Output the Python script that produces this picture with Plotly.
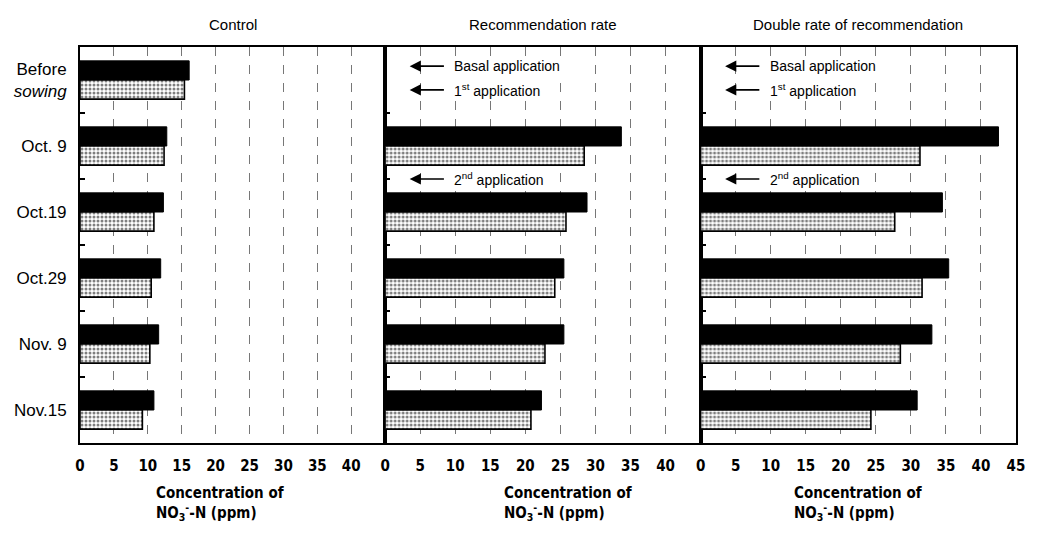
import plotly.graph_objects as go
from plotly.subplots import make_subplots

# Sampling dates (top to bottom)
dates = ["Before<br><i>sowing</i>", "Oct. 9", "Oct.19", "Oct.29", "Nov. 9", "Nov.15"]

panel_titles = ["Control", "Recommendation rate", "Double rate of recommendation"]

# NO3-N concentration (ppm): solid (black) and stippled bars per treatment
control_solid = [16.1, 12.8, 12.3, 11.9, 11.6, 10.9]
control_dotted = [15.4, 12.4, 10.9, 10.5, 10.3, 9.2]

recom_solid = [None, 33.7, 28.8, 25.5, 25.5, 22.3]
recom_dotted = [None, 28.4, 25.8, 24.2, 22.8, 20.8]

double_solid = [None, 42.5, 34.5, 35.4, 33.0, 30.9]
double_dotted = [None, 31.3, 27.7, 31.6, 28.5, 24.3]

# x tick labels per panel
ticks_control = [0, 5, 10, 15, 20, 25, 30, 35, 40]
ticks_recom = [0, 5, 10, 15, 20, 25, 30, 35, 40]
ticks_double = [0, 5, 10, 15, 20, 25, 30, 35, 40, 45]

# Fertilizer application markers (treated panels only)
app_labels = ["Basal application", "1<sup>st</sup> application", "2<sup>nd</sup> application"]
app_rows = [-0.21, 0.15, 1.5]

solid_sets = [control_solid, recom_solid, double_solid]
dotted_sets = [control_dotted, recom_dotted, double_dotted]
tick_sets = [ticks_control, ticks_recom, ticks_double]

fig = make_subplots(rows=1, cols=3, shared_yaxes=False, horizontal_spacing=0.0)

domains = [[0.0, 0.326], [0.326, 0.663], [0.663, 1.0]]
xtitle_pos = [0.46, 0.58, 0.5]

label_font = "Liberation Sans Narrow, Arial Narrow, DejaVu Sans Condensed, Arial"

for i in range(3):
    col = i + 1
    fig.add_trace(
        go.Bar(
            y=dates, x=solid_sets[i], orientation="h",
            marker=dict(color="black", line=dict(color="black", width=1)),
            showlegend=False,
        ),
        row=1, col=col,
    )
    fig.add_trace(
        go.Bar(
            y=dates, x=dotted_sets[i], orientation="h",
            marker=dict(
                color="white",
                line=dict(color="black", width=1.6),
                pattern=dict(shape=".", fgcolor="black", bgcolor="white",
                             size=4, solidity=0.45),
            ),
            showlegend=False,
        ),
        row=1, col=col,
    )

    xa = "xaxis" if i == 0 else f"xaxis{col}"
    ya = "yaxis" if i == 0 else f"yaxis{col}"
    fig.layout[xa].update(
        domain=domains[i], range=[0, 45],
        tickmode="array", tickvals=tick_sets[i],
        ticks="", ticklabelstandoff=8,
        showline=True, linecolor="black", linewidth=2, mirror=True,
        showgrid=True, gridcolor="#777", griddash="dash", gridwidth=1,
        zeroline=False,
        tickfont=dict(family=label_font, size=15, color="black", weight="bold"),
    )
    fig.layout[ya].update(
        type="category", autorange="reversed",
        categoryorder="array", categoryarray=dates,
        ticks="inside", tickson="boundaries", ticklen=5, tickcolor="black",
        tickwidth=1.5, ticklabelstandoff=8,
        showline=True, linecolor="black", linewidth=2, mirror=True,
        showgrid=False, showticklabels=(i == 0),
        tickfont=dict(family="Arial, Liberation Sans", size=17, color="black"),
    )

    # panel heading
    fig.add_annotation(
        text=panel_titles[i], xref=f"x{'' if i == 0 else col} domain", yref="paper",
        x=0.5, y=1.0, yshift=33, showarrow=False,
        font=dict(family="Arial, Liberation Sans", size=15, color="black"),
    )
    # axis title
    fig.add_annotation(
        text="Concentration of<br>NO<sub>3</sub><sup>-</sup>-N (ppm)",
        xref=f"x{'' if i == 0 else col} domain", yref="paper",
        x=xtitle_pos[i], y=0, yshift=-39, yanchor="top", xanchor="center",
        align="left", showarrow=False,
        font=dict(family=label_font, size=15, color="black", weight="bold"),
    )

    if i > 0:
        xr = f"x{col}"
        yr = f"y{col}"
        for lab, row in zip(app_labels, app_rows):
            fig.add_annotation(
                x=3.5, y=row, xref=xr, yref=yr,
                ax=8.6, ay=row, axref=xr, ayref=yr,
                text="", showarrow=True, arrowhead=2, arrowsize=1.4,
                arrowwidth=1.6, arrowcolor="black",
            )
            fig.add_annotation(
                x=9.6, y=row, xref=xr, yref=yr, text=lab,
                showarrow=False, xanchor="left", yanchor="middle",
                bgcolor="white", borderpad=1,
                font=dict(family="Arial, Liberation Sans", size=14, color="black"),
            )

fig.update_layout(
    width=1037, height=538,
    margin=dict(l=80, r=13, t=47, b=95),
    barmode="group", bargap=0.42, bargroupgap=0.0,
    plot_bgcolor="white", paper_bgcolor="white",
    showlegend=False,
)

fig.write_html("out.html")
